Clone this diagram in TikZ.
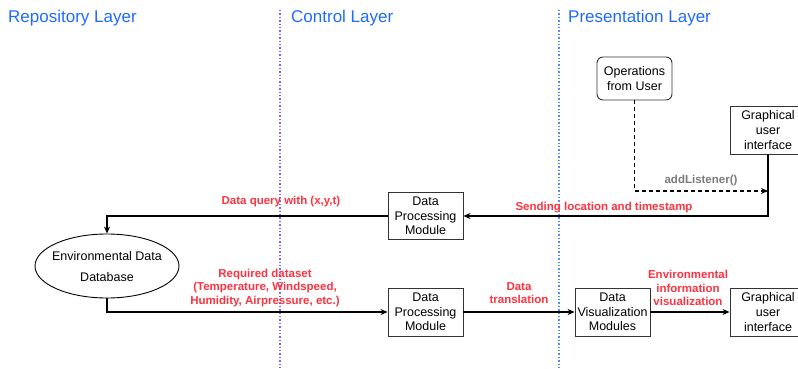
\documentclass[tikz,border=0pt]{standalone}
\usepackage{fontspec}
\setmainfont{Liberation Sans}
\usetikzlibrary{arrows.meta,shapes.geometric}
\definecolor{layerblue}{HTML}{1F6BFF}
\definecolor{lineviolet}{HTML}{7F66FF}
\definecolor{lineblue}{HTML}{4D8FFF}
\definecolor{lblred}{HTML}{FF3340}
\definecolor{lblgray}{HTML}{7A7A7A}
\definecolor{boxgray}{HTML}{333333}
\tikzset{
  layer/.style={anchor=west,text=layerblue,font=\fontsize{17}{19}\selectfont,inner sep=0pt},
  divider/.style={dotted,line width=1.4pt},
  box/.style={draw=boxgray,line width=0.9pt,align=center,font=\fontsize{12.5}{14.7}\selectfont,inner sep=0pt},
  lbl/.style={text=lblred,font=\bfseries\fontsize{11.5}{13.6}\selectfont,align=center,inner sep=0pt},
  conn/.style={line width=1.1pt,-{Stealth[length=7pt,width=6pt]}},
}
\begin{document}
\begin{tikzpicture}[x=1pt,y=-1pt]
\useasboundingbox (0,0) rectangle (798,369);
% layer titles
\node[layer] (t1) at (8,18) {Repository Layer};
\node[layer] (t2) at (291,18) {Control Layer};
\node[layer] (t3) at (568,18) {Presentation Layer};
% dividers
\draw[divider,lineviolet] (280,10) -- (280,369);
\draw[divider,lineblue] (559,10) -- (559,369);
% nodes
\node[box,rounded corners=6pt,minimum width=75pt,minimum height=43pt] (ops) at (634.5,78.5) {Operations\\from User};
\node[box,minimum width=76pt,minimum height=48pt] (gui1) at (768,130) {Graphical\\user\\interface};
\node[box,minimum width=75pt,minimum height=47pt] (dp1) at (425.5,216) {Data\\Processing\\Module};
\node[draw=black,line width=0.9pt,ellipse,minimum width=144pt,minimum height=64pt,inner sep=0pt] (db) at (107,266) {};
\node[font=\fontsize{12.5}{14}\selectfont,inner sep=0pt] (dbt1) at (107,256) {Environmental Data};
\node[font=\fontsize{12.5}{14}\selectfont,inner sep=0pt] (dbt2) at (107,277) {Database};
\node[box,minimum width=75pt,minimum height=48pt] (dp2) at (425.5,312) {Data\\Processing\\Module};
\node[box,minimum width=75pt,minimum height=48pt] (vis) at (612.5,312) {Data\\Visualization\\Modules};
\node[box,minimum width=76pt,minimum height=48pt] (gui2) at (768,312) {Graphical\\user\\interface};
% helper coordinates
\coordinate (j1) at (768,191);
\coordinate (j2) at (768,216);
\coordinate (c1) at (107,216);
\coordinate (c2) at (107,312);
% connectors
\draw[conn,dashed,dash pattern=on 4pt off 3pt] (ops.south) |- (j1);
\draw[conn] (gui1.south) -- (j2) -- (dp1.east);
\draw[conn] (dp1.west) -- (c1) -- (db.north);
\draw[conn] (db.south) -- (c2) -- (dp2.west);
\draw[conn] (dp2.east) -- (vis.west);
\draw[conn] (vis.east) -- (gui2.west);
% labels
\node[lbl,text=lblgray] (l0) at (701,181) {addListener()};
\node[lbl] (l1) at (604,208) {Sending location and timestamp};
\node[lbl] (l2) at (281,202) {Data query with (x,y,t)};
\node[lbl] (l3) at (265,288) {Required dataset\\(Temperature, Windspeed,\\Humidity, Airpressure, etc.)};
\node[lbl] (l4) at (519,293) {Data\\translation};
\node[lbl] (l5) at (688,288) {Environmental\\information\\visualization};
\end{tikzpicture}
\end{document}
